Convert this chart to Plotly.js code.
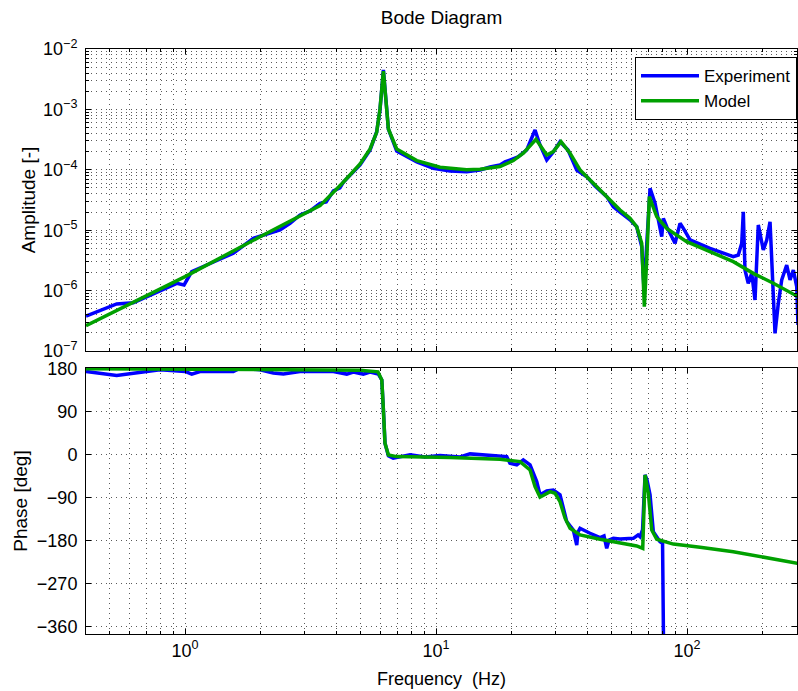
<!DOCTYPE html>
<html>
<head>
<meta charset="utf-8">
<script src="https://cdn.plot.ly/plotly-3.0.1.min.js"></script>
<style>
  html, body { margin: 0; padding: 0; background: #fff; }
  #chart { width: 798px; height: 691px; }
</style>
</head>
<body>
<div id="chart"></div>
<script>
// Measured frequency response (Hz, amplitude)
const freqExpAmp = [0.403, 0.534, 0.622, 0.704, 0.795, 0.927, 0.991, 1.063, 1.22, 1.557, 1.872, 2.116, 2.39, 2.62, 2.872, 3.15, 3.45, 3.65, 3.90, 4.14, 4.27, 4.98, 5.46, 5.80, 5.98, 6.17, 6.32, 6.46, 6.97, 8.38, 9.75, 11.37, 13.25, 14.97, 16.41, 17.99, 18.83, 19.71, 21.22, 22.98, 24.8, 25.96, 27.61, 29.33, 31.19, 33.57, 36.36, 39.85, 43.0, 47.87, 50.87, 54.09, 59.28, 63.04, 66.01, 67.42, 69.1, 71.23, 74.57, 79.3, 80.47, 83.0, 89.6, 93.8, 96.7, 102.8, 123.5, 152.9, 160.1, 165.2, 167.6, 170.2, 175.4, 181.1, 186.6, 192.3, 201.4, 207.8, 214.2, 217.6, 224.2, 231.1, 238.4, 249.6, 257.3, 265.2, 273.6, 276.8];
const ampExp = [3.79e-7, 6.0e-7, 6.31e-7, 7.93e-7, 1.02e-6, 1.32e-6, 1.24e-6, 2.06e-6, 2.65e-6, 4.15e-6, 7.35e-6, 8.65e-6, 1.01e-5, 1.30e-5, 1.79e-5, 2.08e-5, 2.79e-5, 2.93e-5, 4.46e-5, 5.0e-5, 6.21e-5, 1.20e-4, 2.13e-4, 4.23e-4, 9.77e-4, 4.49e-3, 1.43e-3, 4.73e-4, 2.05e-4, 1.35e-4, 1.06e-4, 9.55e-5, 9.31e-5, 9.93e-5, 1.11e-4, 1.20e-4, 1.35e-4, 1.45e-4, 1.63e-4, 2.13e-4, 4.56e-4, 2.58e-4, 1.45e-4, 1.97e-4, 2.92e-4, 2.13e-4, 9.93e-5, 7.69e-5, 5.40e-5, 3.59e-5, 2.45e-5, 2.0e-5, 1.48e-5, 1.14e-5, 5.33e-6, 1.02e-6, 4.70e-6, 4.94e-5, 2.79e-5, 7.80e-6, 1.57e-5, 1.14e-5, 6.07e-6, 1.30e-5, 1.07e-5, 6.89e-6, 5.01e-6, 3.64e-6, 3.88e-6, 6.07e-6, 2.02e-5, 2.19e-6, 1.32e-6, 1.93e-6, 6.98e-7, 1.22e-5, 4.70e-6, 6.89e-6, 1.38e-5, 3.21e-6, 1.96e-7, 6.17e-7, 1.50e-6, 2.65e-6, 1.50e-6, 2.19e-6, 1.16e-6, 2.69e-7];

// Fitted model (Hz, amplitude)
const freqModelAmp = [0.403, 1.0, 1.99, 2.87, 3.45, 3.90, 4.27, 4.98, 5.46, 5.80, 5.98, 6.17, 6.32, 6.46, 6.97, 8.38, 10.37, 13.25, 14.97, 17.99, 20.32, 22.27, 25.02, 27.61, 29.33, 31.48, 34.2, 37.47, 42.34, 47.87, 54.09, 59.28, 63.04, 66.01, 67.6, 69.1, 70.77, 75.74, 83.0, 99.7, 123.5, 152.9, 183.7, 220.8, 276.8];
const ampModel = [2.62e-7, 1.70e-6, 7.80e-6, 1.74e-5, 2.55e-5, 4.24e-5, 6.21e-5, 1.25e-4, 2.21e-4, 4.18e-4, 1.02e-3, 4.3e-3, 1.43e-3, 4.73e-4, 2.21e-4, 1.42e-4, 1.10e-4, 1.00e-4, 1.02e-4, 1.13e-4, 1.42e-4, 1.88e-4, 3.20e-4, 1.76e-4, 2.00e-4, 2.92e-4, 1.88e-4, 9.93e-5, 5.97e-5, 3.59e-5, 2.16e-5, 1.57e-5, 1.14e-5, 6.07e-6, 5.41e-7, 3.21e-6, 3.59e-5, 1.68e-5, 1.07e-5, 6.46e-6, 4.41e-6, 3.01e-6, 1.93e-6, 1.32e-6, 7.93e-7];

// Measured phase (Hz, deg)
const freqExpPhase = [0.403, 0.534, 0.704, 0.795, 1.0, 1.063, 1.147, 1.557, 1.656, 1.99, 2.248, 2.465, 2.872, 3.90, 4.41, 4.68, 5.13, 5.46, 5.89, 6.08, 6.17, 6.26, 6.46, 6.75, 7.88, 9.04, 10.37, 12.47, 13.66, 15.44, 17.19, 19.13, 19.71, 20.97, 22.27, 23.69, 25.19, 25.96, 27.61, 29.33, 31.19, 33.17, 35.24, 36.36, 36.79, 37.47, 41.07, 45.03, 46.7, 47.87, 48.89, 50.87, 54.09, 61.11, 63.8, 64.98, 66.5, 68.05, 69.28, 71.23, 73.4, 78.04, 79.9, 80.6];
const phaseExp = [173.7, 165.4, 173.7, 177.3, 173.7, 168.3, 173.7, 173.7, 180.8, 177.3, 170.4, 168.3, 173.7, 173.7, 168.3, 172.5, 168.3, 172.5, 168.3, 156, 93.5, 23.9, -2.7, -7.5, -0.6, -4.8, -2.0, -4.8, 1.5, -0.6, -2.7, -4.2, -18, -21.6, -11, -21.6, -56.5, -84, -76, -74, -84, -140, -157.6, -189, -162, -154, -164.5, -173.7, -170, -196, -178.5, -175, -176.4, -175, -168, -171.6, -157.6, -42.5, -53, -84, -161, -182, -185, -388];

// Model phase (Hz, deg)
const freqModelPhase = [0.403, 2.0, 4.98, 5.87, 6.08, 6.17, 6.26, 6.46, 6.97, 11.37, 17.99, 21.61, 23.69, 24.8, 25.96, 28.47, 29.80, 31.19, 32.66, 34.2, 37.47, 45.03, 54.09, 63.04, 66.62, 68.05, 70.13, 72.36, 75.74, 88.2, 112.7, 152.9, 276.8];
const phaseModel = [179.5, 178.5, 176.5, 173, 156, 93.5, 23.9, -0.6, -4.2, -6.3, -9.6, -14.7, -32, -67, -89, -77.4, -80.8, -98.4, -133, -154, -168, -177, -184, -191, -196, -42.5, -80.8, -157.6, -177, -187, -193.8, -203, -227.3];

// Axis ticks
const freqTicks = [1, 10, 100];
const freqTickText = ['10<sup>0</sup>', '10<sup>1</sup>', '10<sup>2</sup>'];
const ampTicks = [1e-7, 1e-6, 1e-5, 1e-4, 1e-3, 1e-2];
const ampTickText = ['10<sup>\u22127</sup>', '10<sup>\u22126</sup>', '10<sup>\u22125</sup>', '10<sup>\u22124</sup>', '10<sup>\u22123</sup>', '10<sup>\u22122</sup>'];
const phaseTicks = [-360, -270, -180, -90, 0, 90, 180];

// minor positions 2..9 within each decade
function minorLog(decades) {
  const out = [];
  decades.forEach(d => { for (let k = 2; k <= 9; k++) out.push(k * d); });
  return out;
}
const freqMinor = minorLog([0.1, 1, 10, 100]);
const ampMinor = minorLog([1e-7, 1e-6, 1e-5, 1e-4, 1e-3]);

const BLUE = '#0000ff';
const GREEN = '#00a000';
const FONT = 'Liberation Sans, Arial, Helvetica, sans-serif';
const GRID = '#5a5a5a';
const DASH = '1px,4px';

const traces = [
  { x: freqExpAmp, y: ampExp, xaxis: 'x', yaxis: 'y', type: 'scatter', mode: 'lines',
    name: 'Experiment', line: { color: BLUE, width: 3.5 } },
  { x: freqModelAmp, y: ampModel, xaxis: 'x', yaxis: 'y', type: 'scatter', mode: 'lines',
    name: 'Model', line: { color: GREEN, width: 3.5 } },
  { x: freqExpPhase, y: phaseExp, xaxis: 'x2', yaxis: 'y2', type: 'scatter', mode: 'lines',
    name: 'Experiment', showlegend: false, line: { color: BLUE, width: 3.5 } },
  { x: freqModelPhase, y: phaseModel, xaxis: 'x2', yaxis: 'y2', type: 'scatter', mode: 'lines',
    name: 'Model', showlegend: false, line: { color: GREEN, width: 3.5 } }
];

const xRange = [Math.log10(0.403), Math.log10(274.3)];

function baseAxis(extra) {
  return Object.assign({
    showline: true, linecolor: '#000', linewidth: 1, mirror: 'allticks',
    ticks: 'inside', ticklen: 5, tickcolor: '#000', tickwidth: 1,
    showgrid: true, gridcolor: GRID, gridwidth: 1, griddash: DASH,
    zeroline: false,
    tickfont: { family: FONT, size: 18, color: '#000' }
  }, extra);
}

const layout = {
  width: 798, height: 691,
  margin: { l: 86, r: 1, t: 49, b: 57 },
  paper_bgcolor: '#fff', plot_bgcolor: '#fff',
  font: { family: FONT, color: '#000' },
  title: { text: 'Bode Diagram', font: { family: FONT, size: 19, color: '#000' },
           xref: 'paper', x: 0.5, xanchor: 'center', yref: 'container', y: 1 - 17 / 691, yanchor: 'middle' },
  showlegend: true,
  legend: { x: 1, xanchor: 'right', y: 0.986, yanchor: 'top', bgcolor: '#fff',
            bordercolor: '#000', borderwidth: 1, font: { family: FONT, size: 17, color: '#000' },
            itemwidth: 58, tracegroupgap: 0 },
  xaxis: baseAxis({ type: 'log', range: xRange, domain: [0, 1], anchor: 'y',
    tickmode: 'array', tickvals: freqTicks, ticktext: freqTickText, showticklabels: false,
    minor: { tickmode: 'array', tickvals: freqMinor, ticks: 'inside', ticklen: 3, tickcolor: '#000',
             showgrid: true, gridcolor: GRID, griddash: DASH, gridwidth: 1 } }),
  yaxis: baseAxis({ type: 'log', range: [-7, -2], domain: [0.4838, 1], anchor: 'x',
    tickmode: 'array', tickvals: ampTicks, ticktext: ampTickText, ticklabelstandoff: 4,
    title: { text: 'Amplitude [-]', font: { family: FONT, size: 19, color: '#000' }, standoff: 2 },
    minor: { tickmode: 'array', tickvals: ampMinor, ticks: 'inside', ticklen: 3, tickcolor: '#000',
             showgrid: true, gridcolor: GRID, griddash: DASH, gridwidth: 1 } }),
  xaxis2: baseAxis({ type: 'log', range: xRange, domain: [0, 1], anchor: 'y2',
    tickmode: 'array', tickvals: freqTicks, ticktext: freqTickText, ticklabelstandoff: 0,
    title: { text: 'Frequency\u00a0 (Hz)', font: { family: FONT, size: 18, color: '#000' }, standoff: 12 },
    minor: { tickmode: 'array', tickvals: freqMinor, ticks: 'inside', ticklen: 3, tickcolor: '#000',
             showgrid: true, gridcolor: GRID, griddash: DASH, gridwidth: 1 } }),
  yaxis2: baseAxis({ range: [-375, 181], domain: [0, 0.4547], anchor: 'x2',
    tickmode: 'array', tickvals: phaseTicks, ticklabelstandoff: 4,
    title: { text: 'Phase [deg]', font: { family: FONT, size: 19, color: '#000' }, standoff: 4 } })
};

Plotly.newPlot('chart', traces, layout, { displayModeBar: false, staticPlot: true });
</script>
</body>
</html>
